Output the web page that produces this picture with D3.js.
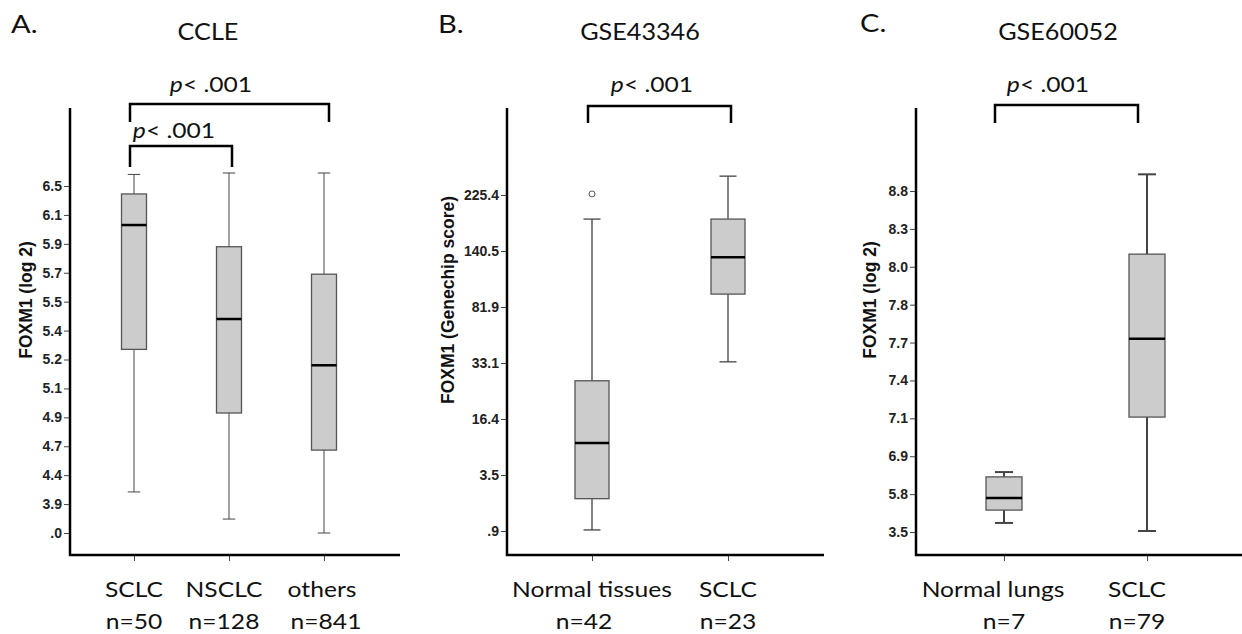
<!DOCTYPE html>
<html><head><meta charset="utf-8">
<script src="https://cdn.jsdelivr.net/npm/d3@7"></script>
<style>body{margin:0;background:#fff}</style>
</head><body><svg id="c" width="1242" height="634"></svg>
<script>
// ---------- Panel A: CCLE ----------
const aTickValues = [0, 3.9, 4.4, 4.7, 4.9, 5.1, 5.2, 5.4, 5.5, 5.7, 5.9, 6.1, 6.5];
const aTickLabels = [".0", "3.9", "4.4", "4.7", "4.9", "5.1", "5.2", "5.4", "5.5", "5.7", "5.9", "6.1", "6.5"];
const aCategories = ["SCLC", "NSCLC", "others"];
const aCounts = ["n=50", "n=128", "n=841"];
const aWhiskerLow = [4.11, 1.88, 0.0];
const aQ1 = [5.27, 4.93, 4.66];
const aMedian = [6.03, 5.44, 5.18];
const aQ3 = [6.39, 5.88, 5.69];
const aWhiskerHigh = [6.66, 6.68, 6.68];
const aOutliers = [[], [], []];

// ---------- Panel B: GSE43346 ----------
const bTickValues = [0.9, 3.5, 16.4, 33.1, 81.9, 140.5, 225.4];
const bTickLabels = [".9", "3.5", "16.4", "33.1", "81.9", "140.5", "225.4"];
const bCategories = ["Normal tissues", "SCLC"];
const bCounts = ["n=42", "n=23"];
const bWhiskerLow = [0.95, 34.1];
const bQ1 = [2.4, 95.4];
const bMedian = [10.9, 134];
const bQ3 = [27.8, 188.9];
const bWhiskerHigh = [188.9, 254];
const bOutliers = [[227], []];

// ---------- Panel C: GSE60052 ----------
const cTickValues = [3.5, 5.8, 6.9, 7.1, 7.4, 7.7, 7.8, 8.0, 8.3, 8.8];
const cTickLabels = ["3.5", "5.8", "6.9", "7.1", "7.4", "7.7", "7.8", "8.0", "8.3", "8.8"];
const cCategories = ["Normal lungs", "SCLC"];
const cCounts = ["n=7", "n=79"];
const cWhiskerLow = [4.05, 3.56];
const cQ1 = [4.83, 7.11];
const cMedian = [5.57, 7.71];
const cQ3 = [6.30, 8.10];
const cWhiskerHigh = [6.44, 9.02];
const cOutliers = [[], []];

const pLabel = "< .001";

const svg = d3.select("#c");
const axisTop = 108, axisBottom = 555;
const sansText = "Lato, 'Open Sans', sans-serif";
const boldAxis = "'Liberation Sans', Arial, sans-serif";
const stretch = 1.12;

const panels = [
  {letter: "A.", title: "CCLE", yTitle: "FOXM1 (log 2)",
   tickValues: aTickValues, tickLabels: aTickLabels, categories: aCategories, counts: aCounts,
   lo: aWhiskerLow, q1: aQ1, med: aMedian, q3: aQ3, hi: aWhiskerHigh, out: aOutliers,
   axisX: 70, xEnd: 400, xRange: [134, 324], yBottom: 533, yTop: 186, boxW: 25, whiskerW: 1,
   letterPos: [11, 33], titlePos: [208, 40], yTitleX: 26,
   nameDx: [0, -5, -2], countDx: [0, -5, 2],
   brackets: [{from: 0, to: 1, top: 146, bottom: 167, dx0: -4, dx1: 3, lx: 174, ly: 138},
              {from: 0, to: 2, top: 104, bottom: 122, dx0: -4, dx1: 5, lx: 211, ly: 92}]},
  {letter: "B.", title: "GSE43346", yTitle: "FOXM1 (Genechip score)",
   tickValues: bTickValues, tickLabels: bTickLabels, categories: bCategories, counts: bCounts,
   lo: bWhiskerLow, q1: bQ1, med: bMedian, q3: bQ3, hi: bWhiskerHigh, out: bOutliers,
   axisX: 507, xEnd: 824, xRange: [592, 728], yBottom: 531, yTop: 195, boxW: 34, whiskerW: 1.3,
   letterPos: [438, 33], titlePos: [640, 40], yTitleX: 448,
   nameDx: [0, 0], countDx: [-8, 0],
   brackets: [{from: 0, to: 1, top: 106, bottom: 123, dx0: -4, dx1: 3, lx: 652, ly: 92}]},
  {letter: "C.", title: "GSE60052", yTitle: "FOXM1 (log 2)",
   tickValues: cTickValues, tickLabels: cTickLabels, categories: cCategories, counts: cCounts,
   lo: cWhiskerLow, q1: cQ1, med: cMedian, q3: cQ3, hi: cWhiskerHigh, out: cOutliers,
   axisX: 916, xEnd: 1242, xRange: [1004, 1147], yBottom: 532, yTop: 191, boxW: 36, whiskerW: 2,
   letterPos: [860, 32], titlePos: [1058, 40], yTitleX: 870,
   nameDx: [-11, -10], countDx: [0, -10],
   brackets: [{from: 0, to: 1, top: 105, bottom: 123, dx0: -9, dx1: -9, lx: 1048, ly: 92}]}
];

function stretchedText(g, x, y, txt, size, anchor) {
  return g.append("text")
    .attr("transform", `translate(${x},${y}) scale(${stretch},1)`)
    .attr("text-anchor", anchor || "middle")
    .attr("font-family", sansText).attr("font-size", size).attr("fill", "#111")
    .text(txt);
}

panels.forEach(p => {
  const g = svg.append("g");
  const n = p.tickValues.length;
  const y = d3.scaleLinear().domain(p.tickValues)
    .range(p.tickValues.map((d, i) => p.yBottom + (p.yTop - p.yBottom) * i / (n - 1)));
  const x = d3.scalePoint().domain(p.categories).range(p.xRange);

  // y axis ticks
  const ya = g.append("g").attr("transform", `translate(${p.axisX},0)`)
    .call(d3.axisLeft(y).tickValues(p.tickValues).tickFormat((d, i) => p.tickLabels[i]).tickSize(6).tickPadding(2));
  ya.select(".domain").remove();
  ya.selectAll(".tick line").attr("stroke", "#444");
  ya.selectAll(".tick text").attr("font-family", boldAxis).attr("font-weight", "bold")
    .attr("font-size", 14).attr("fill", "#222");

  // x axis ticks
  const xa = g.append("g").attr("transform", `translate(0,${axisBottom})`)
    .call(d3.axisBottom(x).tickSize(6).tickFormat(""));
  xa.select(".domain").remove();
  xa.selectAll(".tick line").attr("stroke", "#444");

  // axis lines
  g.append("path").attr("d", `M${p.axisX},${axisTop}V${axisBottom}H${p.xEnd}`)
    .attr("fill", "none").attr("stroke", "#000").attr("stroke-width", 2.5);

  // boxes
  p.categories.forEach((c, i) => {
    const cx = x(c), hw = p.boxW / 2, cw = p.boxW / 4;
    const wg = g.append("g").attr("stroke", "#444").attr("stroke-width", p.whiskerW).attr("fill", "none");
    wg.append("line").attr("x1", cx).attr("x2", cx).attr("y1", y(p.hi[i])).attr("y2", y(p.q3[i]));
    wg.append("line").attr("x1", cx).attr("x2", cx).attr("y1", y(p.q1[i])).attr("y2", y(p.lo[i]));
    wg.append("line").attr("x1", cx - cw).attr("x2", cx + cw).attr("y1", y(p.hi[i])).attr("y2", y(p.hi[i]));
    wg.append("line").attr("x1", cx - cw).attr("x2", cx + cw).attr("y1", y(p.lo[i])).attr("y2", y(p.lo[i]));
    g.append("rect").attr("x", cx - hw).attr("width", p.boxW)
      .attr("y", y(p.q3[i])).attr("height", y(p.q1[i]) - y(p.q3[i]))
      .attr("fill", "#cccccc").attr("stroke", "#555").attr("stroke-width", 1.3);
    g.append("line").attr("x1", cx - hw).attr("x2", cx + hw).attr("y1", y(p.med[i])).attr("y2", y(p.med[i]))
      .attr("stroke", "#000").attr("stroke-width", 2.5);
    p.out[i].forEach(v => {
      g.append("circle").attr("cx", cx).attr("cy", y(v)).attr("r", 3)
        .attr("fill", "#fff").attr("stroke", "#555").attr("stroke-width", 1);
    });
    stretchedText(g, cx + p.nameDx[i], 597, c, 22);
    stretchedText(g, cx + p.countDx[i], 629, p.counts[i], 22);
  });

  // brackets
  p.brackets.forEach(b => {
    const x0 = x(p.categories[b.from]) + b.dx0, x1 = x(p.categories[b.to]) + b.dx1;
    g.append("path").attr("d", `M${x0},${b.bottom}V${b.top}H${x1}V${b.bottom}`)
      .attr("fill", "none").attr("stroke", "#000").attr("stroke-width", 2.5);
    const t = g.append("text")
      .attr("transform", `translate(${b.lx},${b.ly}) scale(${stretch},1)`)
      .attr("text-anchor", "middle").attr("font-family", sansText).attr("font-size", 22).attr("fill", "#111");
    t.append("tspan").attr("font-style", "italic").text("p");
    t.append("tspan").text(pLabel);
  });

  // titles
  stretchedText(g, p.letterPos[0], p.letterPos[1], p.letter, 26, "start");
  stretchedText(g, p.titlePos[0], p.titlePos[1], p.title, 22.5);
  g.append("text").attr("transform", `translate(${p.yTitleX},300) rotate(-90)`)
    .attr("text-anchor", "middle").attr("dy", "0.35em")
    .attr("font-family", boldAxis).attr("font-weight", "bold").attr("font-size", 17.5).attr("fill", "#111")
    .text(p.yTitle);
});
</script></body></html>
